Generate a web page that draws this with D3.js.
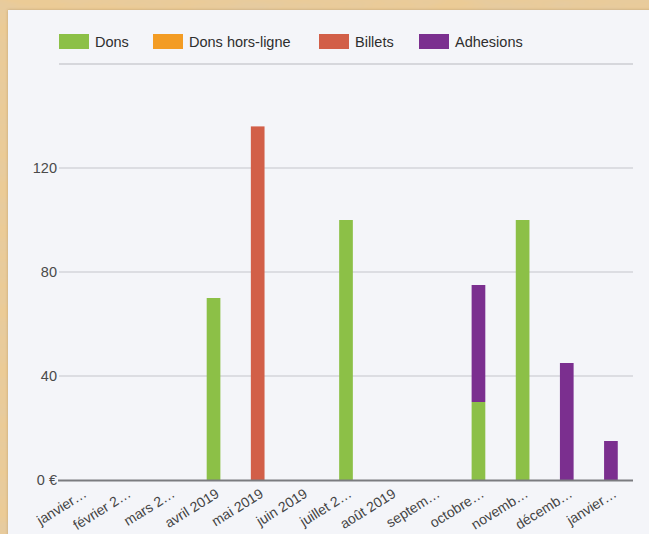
<!DOCTYPE html>
<html>
<head>
<meta charset="utf-8">
<script src="https://cdn.jsdelivr.net/npm/d3@7/dist/d3.min.js"></script>
<style>
  html, body { margin: 0; padding: 0; background: #e4c08b; }
  svg { display: block; }
  text { font-family: "Liberation Sans", Arial, sans-serif; }
</style>
</head>
<body>
<svg id="chart" width="649" height="534"></svg>
<script>
// ---- data ----
const categories = ["janvier…", "février 2…", "mars 2…", "avril 2019", "mai 2019", "juin 2019",
  "juillet 2…", "août 2019", "septem…", "octobre…", "novemb…", "décemb…", "janvier…"];
const seriesNames = ["Dons", "Dons hors-ligne", "Billets", "Adhesions"];
const dons          = [0, 0, 0, 70, 0, 0, 100, 0, 0, 30, 100, 0, 0];
const donsHorsLigne = [0, 0, 0, 0, 0, 0, 0, 0, 0, 0, 0, 0, 0];
const billets       = [0, 0, 0, 0, 136, 0, 0, 0, 0, 0, 0, 0, 0];
const adhesions     = [0, 0, 0, 0, 0, 0, 0, 0, 0, 45, 0, 45, 15];
const yTicks = [0, 40, 80, 120];
const yMax = 160;
const colors = ["#8cc047", "#f39c24", "#d25f48", "#7b2f8f"];

// ---- build ----
const W = 649, H = 534;
const svg = d3.select("#chart");
const defs = svg.append("defs");

// parchment background
const f = defs.append("filter").attr("id", "paper").attr("x", 0).attr("y", 0).attr("width", "100%").attr("height", "100%");
f.append("feTurbulence").attr("type", "fractalNoise").attr("baseFrequency", "0.015 0.05").attr("numOctaves", 4).attr("seed", 7).attr("result", "n");
f.append("feColorMatrix").attr("in", "n").attr("type", "matrix")
  .attr("values", "0 0 0 0 0.78  0 0 0 0 0.60  0 0 0 0 0.36  0 0 0 -1.6 1.1").attr("result", "c");
f.append("feComposite").attr("in", "c").attr("in2", "SourceGraphic").attr("operator", "over");
svg.append("rect").attr("width", W).attr("height", H).attr("fill", "#ebcb96").attr("filter", "url(#paper)");

// panel
const sh = defs.append("filter").attr("id", "sh").attr("x", "-5%").attr("y", "-5%").attr("width", "110%").attr("height", "110%");
sh.append("feDropShadow").attr("dx", 0).attr("dy", 0).attr("stdDeviation", 1.5).attr("flood-color", "#7a5a2a").attr("flood-opacity", 0.35);
svg.append("rect").attr("x", 8).attr("y", 10).attr("width", W).attr("height", H)
  .attr("fill", "#f4f5f9").attr("filter", "url(#sh)");

// scales
const x = d3.scaleBand().domain(d3.range(categories.length)).range([59, 633])
  .paddingInner(0.69).paddingOuter(0.345);
const y = d3.scaleLinear().domain([0, yMax]).range([480, 64]);

// gridlines
const g = svg.append("g");
g.selectAll("line.grid").data(yTicks.filter(t => t !== 0)).join("line")
  .attr("x1", 59).attr("x2", 633).attr("y1", d => y(d)).attr("y2", d => y(d))
  .attr("stroke", "#d4d5da").attr("stroke-width", 1.3);
// top line (domain max)
g.append("line").attr("x1", 59).attr("x2", 633).attr("y1", y(yMax)).attr("y2", y(yMax))
  .attr("stroke", "#d6d7dc").attr("stroke-width", 2);

// y labels
g.selectAll("text.yl").data(yTicks).join("text")
  .attr("x", 57).attr("y", d => y(d)).attr("dy", "0.35em")
  .attr("text-anchor", "end").attr("font-size", 14.5).attr("fill", "#4a4a4a")
  .text(d => d === 0 ? "0 €" : d);

// stacked bars
const table = categories.map((c, i) => ({ i, "Dons": dons[i], "Dons hors-ligne": donsHorsLigne[i], "Billets": billets[i], "Adhesions": adhesions[i] }));
const stack = d3.stack().keys(seriesNames)(table);
svg.append("g").selectAll("g").data(stack).join("g")
  .attr("fill", (d, k) => colors[k])
  .selectAll("rect").data(d => d.filter(p => p[1] - p[0] > 0)).join("rect")
  .attr("x", p => x(p.data.i)).attr("width", x.bandwidth())
  .attr("y", p => y(p[1])).attr("height", p => y(p[0]) - y(p[1]));

// x axis line
svg.append("line").attr("x1", 58).attr("x2", 633).attr("y1", y(0) + 0.5).attr("y2", y(0) + 0.5)
  .attr("stroke", "#7b7c80").attr("stroke-width", 2);

// x labels
svg.append("g").selectAll("text").data(categories).join("text")
  .attr("transform", (d, i) => `translate(${x(i) + x.bandwidth() / 2 + 4},${492}) rotate(-32)`)
  .attr("text-anchor", "end").attr("dy", "0.35em")
  .attr("font-size", 14).attr("fill", "#444")
  .text(d => d);

// legend
const legendX = [59, 153, 319, 419];
const lg = svg.append("g").selectAll("g").data(seriesNames).join("g")
  .attr("transform", (d, k) => `translate(${legendX[k]},34)`);
lg.append("rect").attr("width", 30).attr("height", 15).attr("fill", (d, k) => colors[k]);
lg.append("text").attr("x", 36).attr("y", 7.5).attr("dy", "0.35em")
  .attr("font-size", 14.5).attr("fill", "#2e2e2e").text(d => d);
</script>
</body>
</html>
